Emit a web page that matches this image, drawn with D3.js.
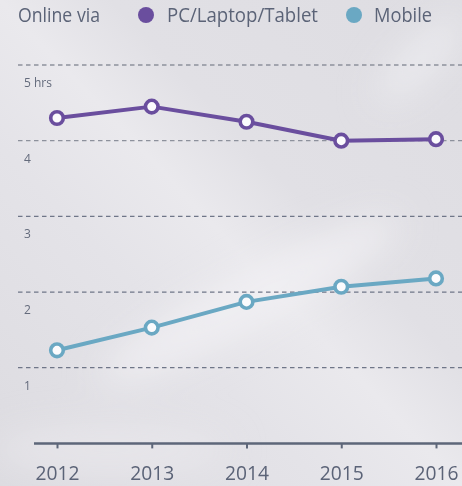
<!DOCTYPE html>
<html>
<head>
<meta charset="utf-8">
<script src="https://cdn.jsdelivr.net/npm/d3@7"></script>
<style>
  html, body { margin: 0; padding: 0; background: #dddce1; }
  svg { display: block; font-family: "Open Sans", Roboto, sans-serif; }
</style>
</head>
<body>
<svg id="chart" width="462" height="486"></svg>
<script>
// Daily hours online, by device
const years = [2012, 2013, 2014, 2015, 2016];
const pcValues = [4.30, 4.45, 4.25, 4.00, 4.02];
const mobileValues = [1.23, 1.53, 1.87, 2.07, 2.18];
const yTicks = [1, 2, 3, 4, 5];
const yTickLabels = ["1", "2", "3", "4", "5 hrs"];
const seriesNames = ["PC/Laptop/Tablet", "Mobile"];
const legendTitle = "Online via";

const W = 462, H = 486;
const purple = "#6a4e9e";
const blue = "#6aa8c3";
const textCol = "#5b6377";

const svg = d3.select("#chart");

// Soft light backdrop with a pale diagonal sheen
const defs = svg.append("defs");
const bg = defs.append("linearGradient").attr("id", "bg")
  .attr("x1", "0").attr("y1", "1").attr("x2", "1").attr("y2", "0");
[["0", "#dcdbe0"], ["0.35", "#e4e3e8"], ["0.5", "#eae9ed"], ["0.62", "#e1e0e5"], ["1", "#dedde2"]]
  .forEach(([o, c]) => bg.append("stop").attr("offset", o).attr("stop-color", c));
defs.append("filter").attr("id", "soft").attr("x", "-50%").attr("y", "-50%").attr("width", "200%").attr("height", "200%")
  .append("feGaussianBlur").attr("stdDeviation", 18);
svg.append("rect").attr("width", W).attr("height", H).attr("fill", "url(#bg)");
const glow = svg.append("g").attr("filter", "url(#soft)");
glow.append("ellipse").attr("cx", 250).attr("cy", 300).attr("rx", 170).attr("ry", 28)
  .attr("transform", "rotate(-28 250 300)").attr("fill", "#f1f0f4").attr("opacity", 0.8);
glow.append("ellipse").attr("cx", 420).attr("cy", 60).attr("rx", 60).attr("ry", 18)
  .attr("transform", "rotate(-45 420 60)").attr("fill", "#eeedf1").attr("opacity", 0.8);
glow.append("ellipse").attr("cx", 110).attr("cy", 450).attr("rx", 120).attr("ry", 25)
  .attr("fill", "#e9e8ec").attr("opacity", 0.7);

const x = d3.scalePoint().domain(years).range([57, 436]);
const y = d3.scaleLinear().domain([0, 5]).range([443.4, 65]);

// Dashed gridlines with their labels below each line
const grid = svg.append("g");
grid.selectAll("line").data(yTicks).join("line")
  .attr("x1", 18).attr("x2", W)
  .attr("y1", d => y(d)).attr("y2", d => y(d))
  .attr("stroke", d => d >= 4 ? "#8d919c" : "#6f7688")
  .attr("stroke-width", 1.3)
  .attr("stroke-dasharray", "4.5,3.5");
grid.selectAll("text").data(yTicks).join("text")
  .attr("x", 24).attr("y", d => y(d) + 22)
  .attr("font-size", 12).attr("fill", "#646b7c")
  .text((d, i) => yTickLabels[i]);

// Bottom axis
const xAxis = d3.axisBottom(x).tickSize(5).tickPadding(15).tickSizeOuter(0);
const ax = svg.append("g").attr("transform", `translate(0,${y(0)})`).call(xAxis);
ax.select(".domain").attr("d", `M34,0H${W}`).attr("stroke", "#5d6679").attr("stroke-width", 2.5);
ax.selectAll(".tick line").attr("stroke", "#5d6679").attr("stroke-width", 2);
ax.selectAll(".tick text").attr("font-size", 20).attr("fill", textCol)
  .attr("font-family", "'Open Sans', sans-serif").attr("dy", "0.82em")
  .attr("textLength", 44).attr("lengthAdjust", "spacingAndGlyphs");

// Series lines and hollow markers
const line = d3.line().x((d, i) => x(years[i])).y(d => y(d));
[[pcValues, purple], [mobileValues, blue]].forEach(([vals, col]) => {
  svg.append("path").datum(vals).attr("d", line)
    .attr("fill", "none").attr("stroke", col).attr("stroke-width", 4)
    .attr("stroke-linejoin", "round");
  svg.append("g").selectAll("circle").data(vals).join("circle")
    .attr("cx", (d, i) => x(years[i])).attr("cy", d => y(d))
    .attr("r", 6.3).attr("fill", "#fbfbfd")
    .attr("stroke", col).attr("stroke-width", 3.6);
});

// Legend
const leg = svg.append("g").attr("font-size", 20).attr("fill", textCol);
leg.append("text").attr("x", 18).attr("y", 22).attr("textLength", 82)
  .attr("lengthAdjust", "spacingAndGlyphs").text(legendTitle);
const legItems = [
  { name: seriesNames[0], color: purple, cx: 146, tx: 167, len: 151 },
  { name: seriesNames[1], color: blue, cx: 354, tx: 374, len: 58 }
];
legItems.forEach(it => {
  leg.append("circle").attr("cx", it.cx).attr("cy", 15).attr("r", 8).attr("fill", it.color);
  leg.append("text").attr("x", it.tx).attr("y", 22).attr("textLength", it.len)
    .attr("lengthAdjust", "spacingAndGlyphs").text(it.name);
});
</script>
</body>
</html>
